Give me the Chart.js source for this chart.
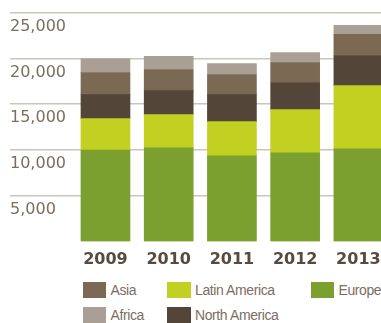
<!DOCTYPE html>
<html>
<head>
<meta charset="utf-8">
<title>Employees by region 2009-2013</title>
<script src="https://cdn.jsdelivr.net/npm/chart.js"></script>
<style>
  html, body { margin: 0; padding: 0; background: #fff; overflow: hidden; }
  #wrap { position: relative; width: 381px; height: 323px; }
  #chart { position: absolute; left: 0; top: 0; }
  #legend {
    position: absolute; left: 82.5px; top: 282px;
    display: grid; grid-auto-flow: column;
    grid-template-rows: 25px 25px;
    grid-template-columns: 84.5px 143.5px auto;
    font-family: "Liberation Sans", sans-serif; font-size: 14px; letter-spacing: -0.4px; color: #7d6d5f;
  }
  .item { display: flex; align-items: center; height: 16px; }
  .swatch { width: 23.5px; height: 16px; margin-right: 4.5px; flex: none; }
</style>
</head>
<body>
<div id="wrap">
  <canvas id="chart" width="390" height="277"></canvas>
  <div id="legend"></div>
</div>
<script>
const years = ['2009', '2010', '2011', '2012', '2013'];
// stacked bottom to top
const europe       = [10000, 10250, 9375, 9705, 10140];
const latinAmerica = [3425, 3610, 3725, 4705, 6895];
const northAmerica = [2625, 2630, 2950, 2955, 3280];
const asia         = [2410, 2295, 2190, 2185, 2300];
const africa       = [1495, 1425, 1200, 1090, 985];
const yTicks = [0, 5000, 10000, 15000, 20000, 25000];

const series = [
  { name: 'Europe', values: europe, color: '#7ba030' },
  { name: 'Latin America', values: latinAmerica, color: '#c2d022' },
  { name: 'North America', values: northAmerica, color: '#534537' },
  { name: 'Asia', values: asia, color: '#7b6954' },
  { name: 'Africa', values: africa, color: '#a99f94' }
];
const legendOrder = ['Asia', 'Africa', 'Latin America', 'North America', 'Europe'];

new Chart(document.getElementById('chart'), {
  type: 'bar',
  data: {
    datasets: series.map(s => ({
      label: s.name,
      data: s.values.map((v, i) => ({ x: i, y: v })),
      backgroundColor: s.color,
      borderWidth: 0,
      barThickness: 49
    }))
  },
  options: {
    responsive: false,
    animation: false,
    devicePixelRatio: 1,
    layout: { padding: { left: 10, top: 12.5, right: 0, bottom: 0 } },
    plugins: { legend: { display: false }, tooltip: { enabled: false } },
    scales: {
      // linear index axis so the gridlines can run out to the left edge
      x: {
        type: 'linear',
        stacked: true,
        offset: false,
        min: -1.51,
        max: 4.5,
        afterBuildTicks: axis => { axis.ticks = years.map((y, i) => ({ value: i })); },
        grid: { display: false, drawTicks: false, offset: false },
        border: { display: false },
        ticks: {
          padding: 8,
          color: '#584a3f',
          font: { family: 'DejaVu Sans', size: 16, weight: 'bold' },
          callback: v => years[v]
        }
      },
      y: {
        stacked: true,
        min: yTicks[0],
        max: yTicks[yTicks.length - 1],
        afterBuildTicks: axis => { axis.ticks = yTicks.map(v => ({ value: v })); },
        grid: {
          drawTicks: false,
          lineWidth: 1.5,
          color: c => c.tick && c.tick.value === 0 ? 'rgba(0,0,0,0)' : '#cbc4be'
        },
        border: { display: false },
        ticks: {
          mirror: true,
          padding: 0,
          labelOffset: 14,
          color: '#7d6d5f',
          font: { family: 'DejaVu Sans', size: 16 },
          callback: v => v === 0 ? '' : v.toLocaleString('en-US')
        }
      }
    }
  }
});

const legend = document.getElementById('legend');
legendOrder.forEach(name => {
  const s = series.find(d => d.name === name);
  const item = document.createElement('div');
  item.className = 'item';
  item.innerHTML = `<div class="swatch" style="background:${s.color}"></div><span>${s.name}</span>`;
  legend.appendChild(item);
});
</script>
</body>
</html>
